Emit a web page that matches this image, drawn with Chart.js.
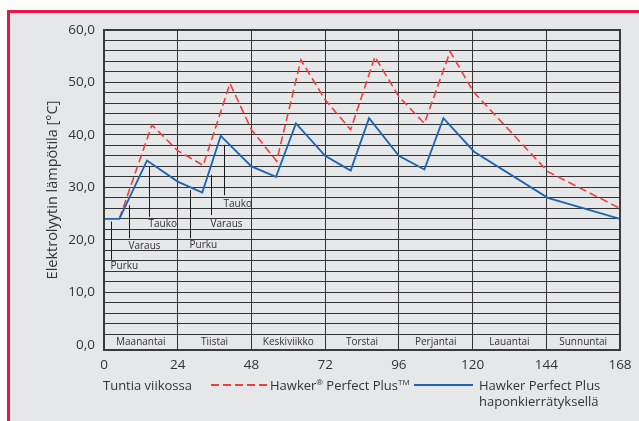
<!DOCTYPE html>
<html>
<head>
<meta charset="utf-8">
<script src="https://cdn.jsdelivr.net/npm/chart.js@4/dist/chart.umd.min.js"></script>
<style>
  html, body { margin: 0; padding: 0; background: #ffffff; }
  #wrap { position: relative; width: 639px; height: 421px; overflow: hidden; }
  #frame { position: absolute; left: 7px; top: 10px; right: 0; bottom: 0;
           background: #e6e7e8; border-left: 3px solid #e8174a; border-top: 3px solid #e8174a; }
  #chart { position: absolute; left: 0; top: 0; }
  .lg { position: absolute; font-family: "Open Sans", sans-serif; font-size: 13px; color: #333; white-space: nowrap; line-height: 16px; }
  .lg sup { font-size: 8px; vertical-align: 5px; line-height: 0; }
  svg.ln { position: absolute; }
</style>
</head>
<body>
<div id="wrap">
  <div id="frame"></div>
  <canvas id="chart" width="639" height="421"></canvas>
  <div class="lg" style="left:103px; top:377px;">Tuntia viikossa</div>
  <svg class="ln" style="left:210px; top:380px;" width="60" height="10"><line x1="1" y1="5" x2="58" y2="5" stroke="#ee3f3f" stroke-width="2" stroke-dasharray="8 4"/></svg>
  <div class="lg" style="left:270px; top:377px;">Hawker<sup>®</sup> Perfect Plus<sup>TM</sup></div>
  <svg class="ln" style="left:413px; top:380px;" width="62" height="10"><line x1="1" y1="5" x2="60" y2="5" stroke="#1c64b0" stroke-width="2"/></svg>
  <div class="lg" style="left:479px; top:377px;">Hawker Perfect Plus<br>haponkierrätyksellä</div>
</div>
<script>
// ---- data ----
const dayLabels = ["Maanantai", "Tiistai", "Keskiviikko", "Torstai", "Perjantai", "Lauantai", "Sunnuntai"];
const xTicks = [0, 24, 48, 72, 96, 120, 144, 168];
const yLabelTicks = [0, 10, 20, 30, 40, 50, 60];

const blueHours = [0, 5, 14, 24, 32, 38, 48, 56, 62.5, 72, 80.3, 86.3, 96, 104.3, 110.5, 120.5, 144.5, 168];
const blueTemps = [24, 24, 35.1, 31.1, 29, 39.8, 34, 32, 42.2, 36, 33.2, 43.2, 36, 33.4, 43.2, 36.8, 28, 24];

const redHours = [5, 15.6, 24, 32.3, 41, 48, 56.2, 64.1, 72, 80.3, 88.2, 96, 104.3, 112.7, 120.3, 144.5, 168];
const redTemps = [24, 41.9, 37, 34.2, 49.8, 41, 35, 54.3, 46.7, 41, 54.9, 47.3, 42.2, 55.9, 48.2, 33, 26];

const notes = ["Purku", "Varaus", "Tauko", "Purku", "Varaus", "Tauko"];
const noteHours = [2.2, 8.2, 14.7, 28.1, 34.8, 39.2];
const noteTop = [23.5, 26.6, 33.9, 29.5, 32.4, 38.1];
const noteBottom = [16.2, 20.3, 24.4, 20.3, 24.7, 28.5];
const noteLabelAt = [14.9, 18.7, 22.9, 18.9, 22.9, 26.8];

const seriesNames = ["Hawker Perfect Plus", "Hawker Perfect Plus haponkierrätyksellä"];

// ---- chart ----
const FONT = '"Open Sans", sans-serif';
const toPts = (xs, ys) => xs.map((x, i) => ({ x: x, y: ys[i] }));

const decorPlugin = {
  id: 'decor',
  beforeDatasetsDraw(chart) {
    const { ctx, scales: { x, y } } = chart;
    ctx.save();
    ctx.strokeStyle = '#1a1a1a';
    ctx.lineWidth = 1;
    ctx.font = '10px ' + FONT;
    ctx.fillStyle = '#333';
    ctx.textAlign = 'left';
    ctx.textBaseline = 'middle';
    notes.forEach((t, i) => {
      const px = Math.round(x.getPixelForValue(noteHours[i])) + 0.5;
      ctx.beginPath();
      ctx.moveTo(px, y.getPixelForValue(noteTop[i]));
      ctx.lineTo(px, y.getPixelForValue(noteBottom[i]));
      ctx.stroke();
      ctx.fillText(t, px - 1, y.getPixelForValue(noteLabelAt[i]));
    });
    ctx.textAlign = 'center';
    dayLabels.forEach((d, i) => {
      ctx.fillText(d, x.getPixelForValue(12 + 24 * i), y.getPixelForValue(0.45));
    });
    ctx.restore();
  },
  afterDraw(chart) {
    const { ctx, chartArea: a } = chart;
    ctx.save();
    ctx.strokeStyle = '#3a3a3a';
    ctx.lineWidth = 2;
    ctx.strokeRect(a.left, a.top, a.right - a.left, a.bottom - a.top);
    ctx.restore();
  }
};

new Chart(document.getElementById('chart'), {
  type: 'line',
  data: {
    datasets: [
      { label: seriesNames[1], data: toPts(blueHours, blueTemps), borderColor: '#1c64b0', borderWidth: 1.8, pointRadius: 0, tension: 0, fill: false },
      { label: seriesNames[0], data: toPts(redHours, redTemps), borderColor: '#ee3f3f', borderWidth: 1.6, borderDash: [8, 4], pointRadius: 0, tension: 0, fill: false }
    ]
  },
  options: {
    responsive: false,
    animation: false,
    layout: { padding: { left: 44, top: 30, right: 19, bottom: 0 } },
    plugins: { legend: { display: false }, tooltip: { enabled: false } },
    scales: {
      x: {
        type: 'linear', min: 0, max: 168,
        afterBuildTicks: s => { s.ticks = xTicks.map(v => ({ value: v })); },
        afterFit: s => { s.height = 71; },
        grid: { color: '#333', lineWidth: 1, drawTicks: false },
        border: { display: false },
        ticks: { autoSkip: false, maxRotation: 0, padding: 7, color: '#333', font: { family: FONT, size: 13.5 } }
      },
      y: {
        type: 'linear', min: -1, max: 60,
        afterBuildTicks: s => { const t = []; for (let v = 0; v <= 60; v += 2) t.push({ value: v }); s.ticks = t; },
        afterFit: s => { s.width = 60; },
        grid: { color: c => (c.tick && c.tick.value === 0) ? 'rgba(0,0,0,0)' : '#333', lineWidth: 1, drawTicks: false },
        border: { display: false },
        ticks: {
          autoSkip: false, padding: 9, color: '#333', font: { family: FONT, size: 13.5 },
          callback: v => yLabelTicks.includes(v) ? v.toFixed(1).replace('.', ',') : ''
        },
        title: { display: true, text: 'Elektrolyytin lämpötila [°C]', color: '#333', font: { family: FONT, size: 14.5 }, padding: 0 }
      }
    }
  },
  plugins: [decorPlugin]
});
</script>
</body>
</html>
